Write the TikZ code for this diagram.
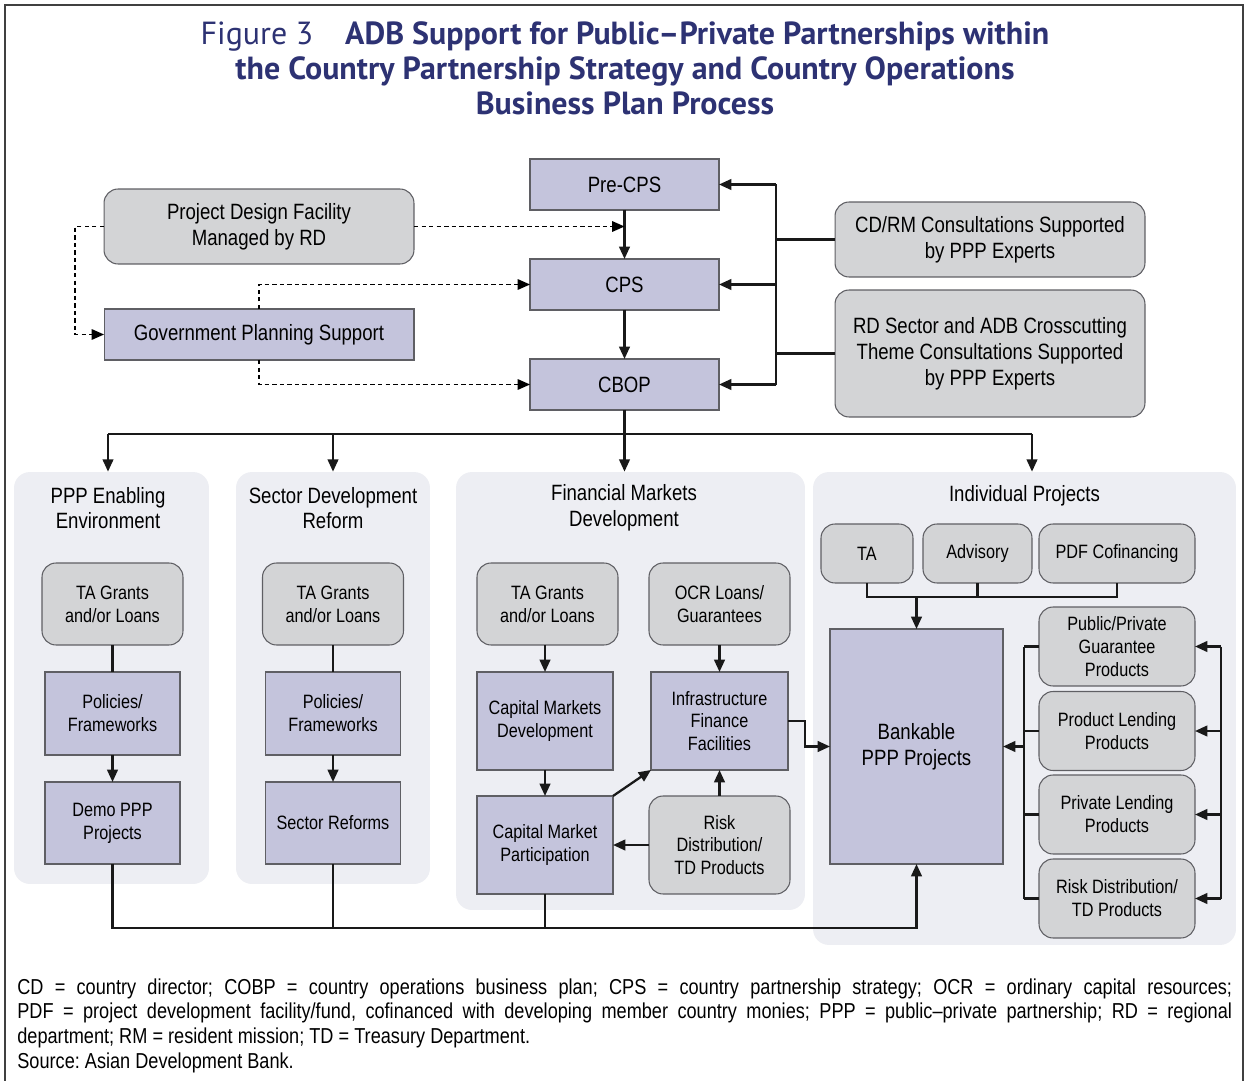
\documentclass[tikz,border=0pt]{standalone}
\usepackage{fontspec}
\setmainfont[FakeStretch=0.84]{Liberation Sans}
\newfontfamily\titlefont{PT Sans}
\usetikzlibrary{arrows.meta,positioning}
\frenchspacing

\definecolor{boxblue}{RGB}{196,196,220}
\definecolor{boxgray}{RGB}{211,212,214}
\definecolor{panelgray}{RGB}{237,238,243}
\definecolor{titleblue}{RGB}{45,50,115}
\definecolor{edgegray}{RGB}{95,95,100}

\begin{document}
\begin{tikzpicture}[x=0.02cm,y=-0.02cm,
  bluebox/.style={draw=edgegray,line width=0.6pt,fill=boxblue,align=center,inner sep=0pt,outer sep=0pt},
  graybox/.style={bluebox,fill=boxgray,rounded corners=8pt},
  panel/.style={fill=panelgray,rounded corners=9pt,inner sep=0pt},
  conn/.style={line width=1.3pt,draw=black!90},
  dashconn/.style={line width=0.7pt,dash pattern=on 2.5pt off 1.8pt},
  tip/.style={-{Triangle[length=7pt,width=6pt]}},
  big/.style={font=\fontsize{12.6}{14.7}\selectfont},
  small/.style={font=\fontsize{11}{13}\selectfont}]

  \useasboundingbox (0,0) rectangle (1248,1081);
  \draw[line width=1.3pt,black!75] (5,1081) -- (5,5) -- (1243,5) -- (1243,1081);

  \node[font=\titlefont\fontsize{18.2}{20}\selectfont,text=titleblue,align=center] (title) at (625,68.5)
    {Figure 3\hspace{1em}\textbf{ADB Support for Public–Private Partnerships within}\\
     \textbf{the Country Partnership Strategy and Country Operations}\\
     \textbf{Business Plan Process}};

  % CPS process
  \node[bluebox,big,minimum width=3.78cm,minimum height=1.02cm] (precps) at (624.5,184.5) {Pre-CPS};
  \node[bluebox,big,minimum width=3.78cm,minimum height=1.02cm] (cps) at (624.5,284.5) {CPS};
  \node[bluebox,big,minimum width=3.78cm,minimum height=1.02cm] (cbop) at (624.5,384.5) {CBOP};
  \node[graybox,big,minimum width=6.2cm,minimum height=1.5cm] (pdf) at (259,226.5) {Project Design Facility\\Managed by RD};
  \node[bluebox,big,minimum width=6.2cm,minimum height=1.02cm] (gps) at (259,334.5) {Government Planning Support};
  \node[graybox,big,minimum width=6.2cm,minimum height=1.5cm] (cdrm) at (990,239.5) {CD/RM Consultations Supported\\by PPP Experts};
  \node[graybox,big,minimum width=6.2cm,minimum height=2.54cm] (rdsec) at (990,353.5) {RD Sector and ADB Crosscutting\\Theme Consultations Supported\\by PPP Experts};

  \draw[conn,tip] (precps) -- (cps);
  \draw[conn,tip] (cps) -- (cbop);
  \coordinate (rbus) at (776,0);
  \draw[conn] (cdrm.west) -- (rbus |- cdrm.west);
  \draw[conn] (rdsec.west) -- (rbus |- rdsec.west);
  \draw[conn] (rbus |- precps.east) -- (rbus |- cbop.east);
  \foreach \n in {precps,cps,cbop}
    \draw[conn,tip] (rbus |- \n.east) -- (\n.east);

  \coordinate (pdfjoin) at (pdf.east -| precps.south);
  \draw[dashconn,tip] (pdf.east) -- (pdfjoin);
  \draw[dashconn,tip] (pdf.west) -- ++(-29,0) |- (gps.west);
  \draw[dashconn,tip] (gps.north) |- (cps.west);
  \draw[dashconn,tip] (gps.south) |- (cbop.west);

  % panels
  \node[panel,minimum width=3.9cm,minimum height=8.24cm] (p1) at (111.5,678) {};
  \node[panel,minimum width=3.88cm,minimum height=8.24cm] (p2) at (333,678) {};
  \node[panel,minimum width=6.98cm,minimum height=8.76cm] (p3) at (630.5,691) {};
  \node[panel,minimum width=8.46cm,minimum height=9.46cm] (p4) at (1024.5,708.5) {};
  \node[big,align=center] (t1) at (108,508) {PPP Enabling\\Environment};
  \node[big,align=center] (t2) at (333,508) {Sector Development\\Reform};
  \node[big,align=center] (t3) at (624,508) {Financial Markets\\Development};
  \node[big,align=center] (t4) at (1024.5,496) {Individual Projects};

  \coordinate (bus) at (cbop.south |- 0,434);
  \draw[conn] (cbop.south) -- (bus);
  \draw[conn] (108,434) -- (1032,434);
  \foreach \x/\p in {108/p1,333/p2,624.5/p3,1032/p4}
    \draw[conn,tip] (\x,434) -- (\x,0 |- \p.north);

  % PPP enabling environment
  \node[graybox,small,minimum width=2.82cm,minimum height=1.64cm] (ta1) at (112.5,604) {TA Grants\\and/or Loans};
  \node[bluebox,small,minimum width=2.7cm,minimum height=1.66cm] (pol1) at (112.5,713.5) {Policies/\\Frameworks};
  \node[bluebox,small,minimum width=2.7cm,minimum height=1.64cm] (demo) at (112.5,823) {Demo PPP\\Projects};
  \draw[conn] (ta1) -- (pol1);
  \draw[conn,tip] (pol1) -- (demo);

  % sector development reform
  \node[graybox,small,minimum width=2.82cm,minimum height=1.64cm] (ta2) at (333,604) {TA Grants\\and/or Loans};
  \node[bluebox,small,minimum width=2.7cm,minimum height=1.66cm] (pol2) at (333,713.5) {Policies/\\Frameworks};
  \node[bluebox,small,minimum width=2.7cm,minimum height=1.64cm] (reforms) at (333,823) {Sector Reforms};
  \draw[conn] (ta2) -- (pol2);
  \draw[conn,tip] (pol2) -- (reforms);

  % financial markets development
  \node[graybox,small,minimum width=2.82cm,minimum height=1.64cm] (ta3) at (547.5,604) {TA Grants\\and/or Loans};
  \node[graybox,small,minimum width=2.82cm,minimum height=1.64cm] (ocr) at (719.5,604) {OCR Loans/\\Guarantees};
  \node[bluebox,small,minimum width=2.72cm,minimum height=1.96cm] (cmd) at (545,721) {Capital Markets\\Development};
  \node[bluebox,small,minimum width=2.74cm,minimum height=1.96cm] (iff) at (719.5,721) {Infrastructure\\Finance\\Facilities};
  \node[bluebox,small,minimum width=2.72cm,minimum height=1.96cm] (cmp) at (545,845) {Capital Market\\Participation};
  \node[graybox,small,minimum width=2.82cm,minimum height=1.96cm] (risk) at (719.5,845) {Risk\\Distribution/\\TD Products};
  \draw[conn,tip] (ta3.south -| cmd.north) -- (cmd.north);
  \draw[conn,tip] (ocr) -- (iff);
  \draw[conn,tip] (cmd) -- (cmp);
  \draw[conn,tip] (cmp.north east) -- (iff.south west);
  \draw[conn,tip] (risk) -- (iff);
  \draw[conn,tip] (risk) -- (cmp);

  % individual projects
  \node[graybox,small,minimum width=1.84cm,minimum height=1.18cm] (ta4) at (867,553.5) {TA};
  \node[graybox,small,minimum width=2.18cm,minimum height=1.18cm] (adv) at (977.5,553.5) {Advisory};
  \node[graybox,small,minimum width=3.12cm,minimum height=1.18cm] (pdfc) at (1117,553.5) {PDF Cofinancing};
  \node[bluebox,big,minimum width=3.46cm,minimum height=4.7cm] (bank) at (916.5,746.5) {Bankable\\PPP Projects};
  \node[graybox,small,minimum width=3.12cm,minimum height=1.58cm] (ppg) at (1117,646.5) {Public/Private\\Guarantee\\Products};
  \node[graybox,small,minimum width=3.12cm,minimum height=1.58cm] (plp) at (1117,731) {Product Lending\\Products};
  \node[graybox,small,minimum width=3.12cm,minimum height=1.58cm] (pvl) at (1117,814.5) {Private Lending\\Products};
  \node[graybox,small,minimum width=3.12cm,minimum height=1.58cm] (rdt) at (1117,898.5) {Risk Distribution/\\TD Products};

  \draw[conn] (ta4.south) -- ++(0,14) coordinate (j4) -| (pdfc.south);
  \draw[conn] (adv.south) -- (adv.south |- j4);
  \draw[conn,tip] (bank.north |- j4) -- (bank.north);
  \draw[conn,tip] (iff.east) -- ++(17,0) |- (bank.west);

  \coordinate (lbus) at (1024,0);
  \coordinate (rbus2) at (1221,0);
  \draw[conn] (lbus |- ppg.west) -- (lbus |- rdt.west);
  \draw[conn] (rbus2 |- ppg.east) -- (rbus2 |- rdt.east);
  \foreach \n in {ppg,plp,pvl,rdt} {
    \draw[conn] (\n.west) -- (lbus |- \n.west);
    \draw[conn,tip] (rbus2 |- \n.east) -- (\n.east);
  }
  \draw[conn,tip] (lbus |- bank.east) -- (bank.east);

  \draw[conn,tip] (demo.south) -- (demo.south |- 0,928) -| (bank.south);
  \draw[conn] (reforms.south) -- (reforms.south |- 0,928);
  \draw[conn] (cmp.south) -- (cmp.south |- 0,928);

  % notes
  \node[anchor=north west,text width=24.3cm,align=justify,inner sep=0pt,
        font=\fontsize{12.3}{14.2}\selectfont] (note) at (17,978)
    {CD = country director; COBP = country operations business plan; CPS = country partnership strategy; OCR = ordinary capital resources;\linebreak
     PDF = project development facility/fund, cofinanced with developing member country monies; PPP = public–private partnership; RD = regional\linebreak
     department; RM = resident mission; TD = Treasury Department.\\
     Source: Asian Development Bank.};
\end{tikzpicture}
\end{document}
